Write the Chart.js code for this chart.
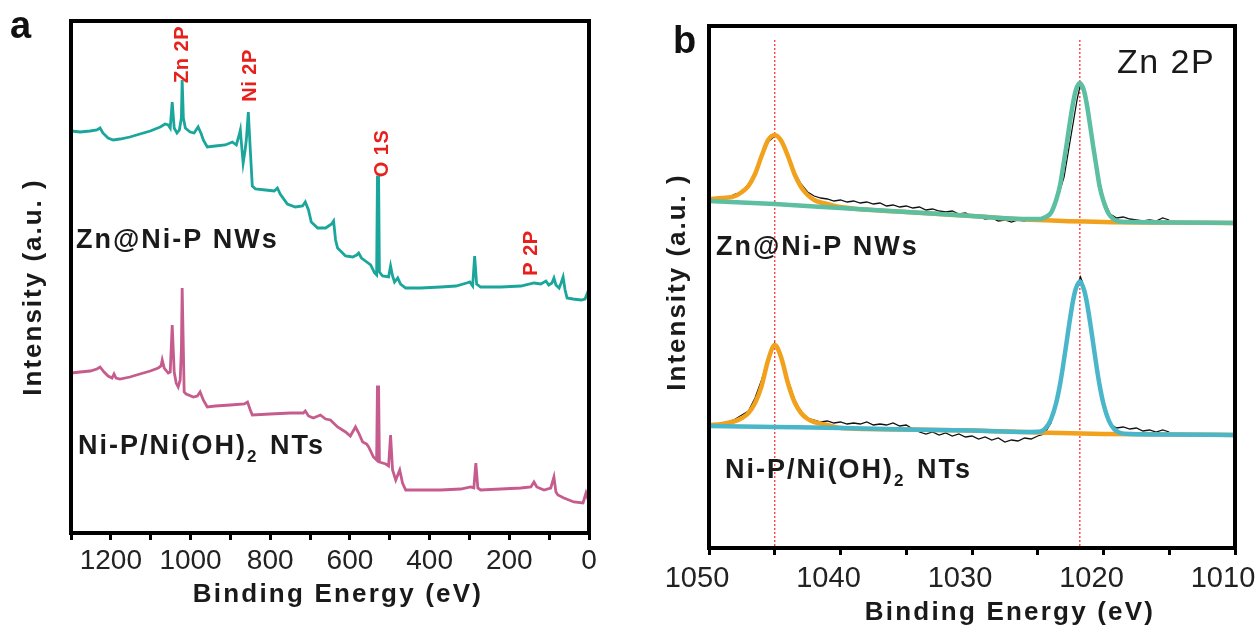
<!DOCTYPE html>
<html><head><meta charset="utf-8">
<script src="https://cdn.jsdelivr.net/npm/chart.js@4.4.1/dist/chart.umd.min.js"></script>
<style>
html,body{margin:0;padding:0;background:#fff;}
#wrap{position:relative;width:1260px;height:628px;}
canvas{position:absolute;top:0;}
#ca{left:0;} #cb{left:630px;}
</style></head><body>
<div id="wrap"><canvas id="ca" width="630" height="628"></canvas><canvas id="cb" width="630" height="628"></canvas></div>
<script>
// ---------- Panel a : XPS survey (Binding energy eV, intensity a.u.) ----------
const surveyE_Zn = [1300,1277,1252,1235,1227,1220,1207,1194,1177,1152,1127,1101,1076,1064,1056,1051,1046,1041,1034,1028,1023,1021,1018,1013,1001,991,981,973,968,958,938,913,895,885,878,875,873,868,863,860,855,850,845,837,812,790,782,775,757,737,719,712,704,697,681,661,646,641,636,631,611,593,583,578,571,561,548,538,533,531,528,526,518,503,498,493,488,480,473,460,422,372,334,307,299,292,287,282,272,221,171,138,121,108,101,93,88,83,75,70,65,60,55,40,20,10,5,0];
const surveyI_Zn = [402,401,402,403,405,400,395,393,394,396,399,402,406,409,408,405,431,405,400,403,415,453,415,405,401,400,406,399,393,386,387,388,391,388,398,403,393,370,383,393,421,383,347,344,343,342,345,339,329,326,327,331,323,311,305,305,309,312,293,285,277,276,278,280,275,272,268,260,258,356,356,261,257,256,267,257,251,255,249,245,245,246,247,250,251,247,277,249,246,246,247,250,249,252,248,250,255,248,245,250,256,243,235,234,233,234,239,235];
const surveyE_NiP = [1300,1277,1252,1235,1227,1217,1207,1197,1192,1187,1177,1152,1127,1101,1081,1074,1071,1066,1056,1051,1046,1041,1036,1031,1026,1023,1021,1018,1016,1011,993,983,976,968,958,938,900,865,857,850,845,800,749,717,712,704,692,674,661,649,631,611,599,586,578,568,558,553,541,533,531,528,526,510,503,498,493,485,475,468,460,422,372,322,297,289,284,279,272,221,171,146,138,131,113,96,88,83,78,63,38,15,7.5,0];
const surveyI_NiP = [160,161,162,164,166,161,157,155,159,155,154,156,159,162,165,167,173,165,160,161,208,161,150,146,153,183,245,183,141,139,136,137,141,133,126,127,128,129,131,123,118,119,120,120,122,117,115,118,114,113,106,101,97,106,100,91,89,86,76,73,146,146,71,69,67,98,63,53,63,50,43,43,43,44,46,45,70,45,43,44,45,46,51,46,43,45,56,41,38,35,31,30,40,31];
const xTicksA = [1200,1000,800,600,400,200,0];
const peakLabelsA = [
  {text:'Zn 2P', e:1019.6, i:478.5},
  {text:'Ni 2P', e:848.6, i:457.5},
  {text:'O 1S',  e:518,   i:379.5},
  {text:'P 2P',  e:143.3, i:280}
];

// ---------- Panel b : Zn 2p high-resolution ----------
const rawE = [1049.5,1049,1048.5,1048,1047.5,1047,1046.5,1046,1045.5,1045,1044.5,1044,1043.5,1043,1042.5,1042,1041.5,1041,1040.5,1040,1039.5,1039,1038.5,1038,1037.5,1037,1036.5,1036,1035.5,1035,1034.5,1034,1033.5,1033,1032.5,1032,1031.5,1031,1030.5,1030,1029.5,1029,1028.5,1028,1027.5,1027,1026.5,1026,1025.5,1025,1024.5,1024,1023.5,1023,1022.5,1022,1021.75,1021.5,1021,1020.5,1020,1019.5,1019,1018.5,1018,1017.5,1017,1016.5,1016,1015.5,1015];
const rawI_Zn = [348,350,351,354,356,364,375,391,406,412,409,391,376,364,356,352,350,349,347,348,346,347,345,346,344,345,342,343,341,342,340,341,338,339,337,336,337,334,335,332,331,329,330,327,328,326,328,327,329,328,331,336,350,371,410,449,464,456,423,379,349,334,330,331,329,328,327,328,327,330,328];
const rawI_NiP = [123,125,126,129,133,137,150,168,190,205,192,168,149,136,130,128,126,127,125,126,124,125,124,126,123,124,123,125,122,123,119,116,114,116,113,115,112,114,111,112,109,111,108,110,106,108,107,110,109,112,114,125,148,185,232,262,271,262,226,180,145,124,120,121,119,120,117,118,116,118,116];
const fitHalfE_Zn = [1050,1049,1048,1047.5,1047,1046.5,1046,1045.5,1045,1044.5,1044,1043.5,1043,1042.5,1042,1041.5,1041,1040,1035,1030,1025,1020,1015,1010];
const fitHalfI_Zn = [349,350,352,356,362,374,392,408,413,407,392,374,361,353,348,345.5,344,341,336,332,328,326,325.5,325];
const fitMainE = [1050,1045,1040,1035,1030,1026,1024.8,1024.4,1024,1023.6,1023.3,1023.1,1022.8,1022.6,1022.3,1022.1,1021.8,1021.5,1021.3,1021,1020.8,1020.5,1020.3,1020,1019.6,1019.2,1018.8,1018,1015,1010];
const fitMainI_Zn = [347,344,340,336,332,329,329,331,335,348,363,379,404,422,446,458,465,458,446,421,403,378,362,347,334,328.5,326.5,326,325.5,325];
const fitHalfE_NiP = [1050,1049,1048,1047.5,1047,1046.5,1046,1045.5,1045,1044.5,1044,1043.5,1043,1042.5,1042,1041,1040,1035,1030,1025,1020,1015,1010];
const fitHalfI_NiP = [123,124,127,130,135,145,162,188,203,190,165,146,135,129,126,123,120,118.5,117.5,115.5,114,113.5,113];
const fitMainI_NiP = [122,121,120,118.5,117.5,116,116.5,120,128.5,145,164,180,206.5,224.5,248.5,259.5,266.5,259,248,224,206,179,163,144,127.5,119,115.5,114,113.5,113];
const xTicksB = [1050,1040,1030,1020,1010];
const refLinesB = [1045.0, 1021.8];

// ---------- helpers ----------
const FONT = "'Liberation Sans', Arial, sans-serif";
Chart.defaults.font.family = FONT;
const pts = (xs, ys) => xs.map((x, k) => ({x: x, y: ys[k]}));

function txt(ctx, s, x, y, font, color, align, spacing, baseline) {
  ctx.save();
  ctx.font = font; ctx.fillStyle = color; ctx.textAlign = align || 'left';
  ctx.textBaseline = baseline || 'alphabetic';
  ctx.letterSpacing = (spacing || 0) + 'px';
  ctx.fillText(s, x, y);
  ctx.restore();
}
function rotTxt(ctx, s, cx, cy, font, color, spacing) {
  ctx.save();
  ctx.translate(cx, cy); ctx.rotate(-Math.PI / 2);
  ctx.font = font; ctx.fillStyle = color; ctx.textAlign = 'center'; ctx.textBaseline = 'middle';
  ctx.letterSpacing = (spacing || 0) + 'px';
  ctx.fillText(s, 0, 0);
  ctx.restore();
}
function subLabel(ctx, x, y) {
  ctx.save();
  ctx.fillStyle = '#1a1a1a'; ctx.textBaseline = 'alphabetic'; ctx.textAlign = 'left';
  ctx.letterSpacing = '2px';
  ctx.font = 'bold 27px ' + FONT;
  const a = 'Ni-P/Ni(OH)';
  ctx.fillText(a, x, y);
  let w = ctx.measureText(a).width;
  ctx.font = 'bold 17px ' + FONT;
  ctx.fillText('2', x + w, y + 8);
  w += ctx.measureText('2').width + 2;
  ctx.font = 'bold 27px ' + FONT;
  ctx.fillText(' NTs', x + w, y);
  ctx.restore();
}
function frame(ctx, a) {
  ctx.save(); ctx.strokeStyle = '#000'; ctx.lineWidth = 4;
  ctx.strokeRect(a.left, a.top, a.right - a.left, a.bottom - a.top);
  ctx.restore();
}
const noTitle = {display: false};

// ---------- Chart a ----------
const decorA = {
  id: 'decorA',
  afterDatasetsDraw(chart) {
    const {ctx, chartArea: a, scales: {x, y}} = chart;
    frame(ctx, a);
    peakLabelsA.forEach(p => rotTxt(ctx, p.text, x.getPixelForValue(p.e), y.getPixelForValue(p.i), 'bold 20px ' + FONT, '#e8201c', 0.5));
    txt(ctx, 'Zn@Ni-P NWs', a.left + 5, 248, 'bold 27px ' + FONT, '#1a1a1a', 'left', 2);
    subLabel(ctx, a.left + 7, 454);
  },
  afterDraw(chart) {
    const ctx = chart.ctx;
    txt(ctx, 'a', 10, 38, 'bold 38px ' + FONT, '#111', 'left', 0);
    txt(ctx, 'Binding Energy (eV)', 338, 602, 'bold 26px ' + FONT, '#1a1a1a', 'center', 2.2);
    rotTxt(ctx, 'Intensity (a.u. )', 34, 287, 'bold 26px ' + FONT, '#1a1a1a', 2);
  }
};

new Chart(document.getElementById('ca'), {
  type: 'line',
  data: {datasets: [
    {label: 'Zn@Ni-P NWs', data: pts(surveyE_Zn, surveyI_Zn), borderColor: '#1aa69a', borderWidth: 2.8, pointRadius: 0, tension: 0, fill: false},
    {label: 'Ni-P/Ni(OH)2 NTs', data: pts(surveyE_NiP, surveyI_NiP), borderColor: '#c65c8e', borderWidth: 2.8, pointRadius: 0, tension: 0, fill: false}
  ]},
  options: {
    responsive: false, animation: false, devicePixelRatio: 1,
    layout: {padding: {left: 0, right: 41, top: 21, bottom: 0}},
    plugins: {legend: {display: false}, tooltip: {enabled: false}},
    scales: {
      x: {type: 'linear', reverse: true, min: 0, max: 1300,
        ticks: {stepSize: 100, autoSkip: false, maxRotation: 0, padding: 4, color: '#222',
          font: {size: 28, family: FONT}, callback: v => xTicksA.includes(v) ? String(v) : ''},
        grid: {display: true, drawOnChartArea: false, drawTicks: true, tickLength: 7, tickWidth: 3, tickColor: '#000'},
        border: {display: false}, title: noTitle,
        afterFit: s => { s.height = 95; s.paddingLeft = 0; s.paddingRight = 0; }},
      y: {min: 0, max: 512, ticks: {display: false}, grid: {display: false}, border: {display: false}, title: noTitle,
        afterFit: s => { s.width = 71; s.paddingTop = 0; s.paddingBottom = 0; }}
    }
  },
  plugins: [decorA]
});

// ---------- Chart b ----------
const decorB = {
  id: 'decorB',
  beforeDatasetsDraw(chart) {
    const {ctx, scales: {x, y}} = chart;
    ctx.save();
    ctx.strokeStyle = '#ff3030'; ctx.lineWidth = 1.3; ctx.setLineDash([2, 2]);
    refLinesB.forEach(e => {
      const px = x.getPixelForValue(e);
      ctx.beginPath(); ctx.moveTo(px, y.getPixelForValue(508)); ctx.lineTo(px, y.getPixelForValue(0)); ctx.stroke();
    });
    ctx.restore();
  },
  afterDatasetsDraw(chart) {
    const {ctx, chartArea: a} = chart;
    frame(ctx, a);
    txt(ctx, 'Zn 2P', 487, 73, '34px ' + FONT, '#1a1a1a', 'left', 1.5);
    txt(ctx, 'Zn@Ni-P NWs', 86, 255, 'bold 27px ' + FONT, '#1a1a1a', 'left', 2);
    subLabel(ctx, 95, 478);
  },
  afterDraw(chart) {
    const ctx = chart.ctx;
    txt(ctx, 'b', 43, 53, 'bold 38px ' + FONT, '#111', 'left', 0);
    txt(ctx, 'Binding Energy (eV)', 380, 620, 'bold 26px ' + FONT, '#1a1a1a', 'center', 2.2);
    rotTxt(ctx, 'Intensity (a.u. )', 48, 282, 'bold 26px ' + FONT, '#1a1a1a', 2);
  }
};

const fitStyle = {pointRadius: 0, borderWidth: 4.5, cubicInterpolationMode: 'monotone', fill: false};
const rawStyle = {pointRadius: 0, borderWidth: 1.3, borderColor: '#111', tension: 0, fill: false, order: 2};

new Chart(document.getElementById('cb'), {
  type: 'line',
  data: {datasets: [
    Object.assign({label: 'Zn@Ni-P NWs raw', data: pts(rawE, rawI_Zn)}, rawStyle),
    Object.assign({label: 'Zn@Ni-P NWs Zn 2p1/2', data: pts(fitHalfE_Zn, fitHalfI_Zn), borderColor: '#f2a11c', order: 1}, fitStyle),
    Object.assign({label: 'Zn@Ni-P NWs Zn 2p3/2', data: pts(fitMainE, fitMainI_Zn), borderColor: '#5cbfa2', order: 0}, fitStyle),
    Object.assign({label: 'Ni-P/Ni(OH)2 NTs raw', data: pts(rawE, rawI_NiP)}, rawStyle),
    Object.assign({label: 'Ni-P/Ni(OH)2 NTs Zn 2p1/2', data: pts(fitHalfE_NiP, fitHalfI_NiP), borderColor: '#f2a11c', order: 1}, fitStyle),
    Object.assign({label: 'Ni-P/Ni(OH)2 NTs Zn 2p3/2', data: pts(fitMainE, fitMainI_NiP), borderColor: '#4ab6c9', order: 0}, fitStyle)
  ]},
  options: {
    responsive: false, animation: false, devicePixelRatio: 1,
    layout: {padding: {left: 0, right: 25, top: 26, bottom: 0}},
    plugins: {legend: {display: false}, tooltip: {enabled: false}},
    scales: {
      x: {type: 'linear', reverse: true, min: 1010, max: 1050,
        ticks: {stepSize: 5, autoSkip: false, maxRotation: 0, padding: 7, labelOffset: -12, color: '#222',
          font: {size: 29, family: FONT}, callback: v => xTicksB.includes(v) ? String(v) : ''},
        grid: {display: true, drawOnChartArea: false, drawTicks: true, tickLength: 7, tickWidth: 3, tickColor: '#000'},
        border: {display: false}, title: noTitle,
        afterFit: s => { s.height = 80; s.paddingLeft = 0; s.paddingRight = 0; }},
      y: {min: 0, max: 522, ticks: {display: false}, grid: {display: false}, border: {display: false}, title: noTitle,
        afterFit: s => { s.width = 79; s.paddingTop = 0; s.paddingBottom = 0; }}
    }
  },
  plugins: [decorB]
});
</script>
</body></html>
